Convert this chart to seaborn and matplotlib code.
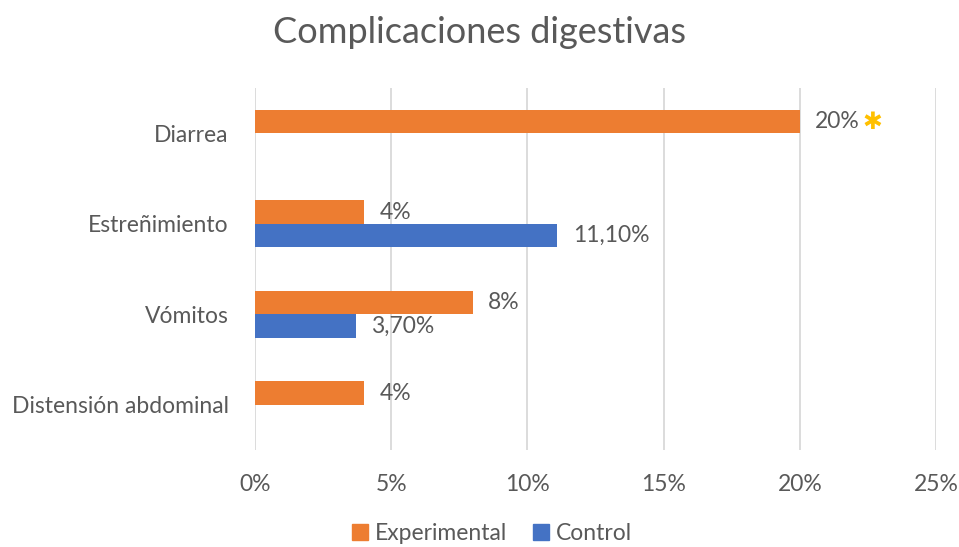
import matplotlib
matplotlib.use("Agg")
import matplotlib.pyplot as plt
from matplotlib.patches import Patch
from matplotlib.ticker import FuncFormatter
import pandas as pd
import seaborn as sns

categories = ["Diarrea", "Estreñimiento", "Vómitos", "Distensión abdominal"]
experimental = [20, 4, 8, 4]
control = [0, 11.1, 3.7, 0]
exp_labels = ["20%", "4%", "8%", "4%"]
ctrl_labels = ["", "11,10%", "3,70%", ""]
groups = ["Experimental", "Control"]
colors = {"Experimental": "#ED7D31", "Control": "#4472C4"}
x_ticks = [0, 5, 10, 15, 20, 25]

df = pd.DataFrame({
    "Complicación": categories * 2,
    "Valor": experimental + control,
    "Grupo": [groups[0]] * 4 + [groups[1]] * 4,
})

sns.set_style("white")
plt.rcParams["font.family"] = ["Lato", "DejaVu Sans"]
text_gray = "#595959"
fs = 16.5

fig = plt.figure(figsize=(9.59, 5.47), dpi=100)
ax = fig.add_axes([0.266, 0.177, 0.71, 0.662])

sns.barplot(data=df, x="Valor", y="Complicación", hue="Grupo", orient="h",
            palette=colors, saturation=1, width=0.52, linewidth=0, ax=ax, legend=False)

ax.set_xlim(0, 25)
ax.set_ylim(3.5, -0.5)
ax.set_xticks(x_ticks)
ax.xaxis.set_major_formatter(FuncFormatter(lambda v, p: f"{v:.0f}%"))
ax.grid(axis="x", color="#D9D9D9", linewidth=1.3)
ax.set_axisbelow(True)
sns.despine(ax=ax, left=True, bottom=True)
ax.set_xlabel("")
ax.set_ylabel("")
ax.tick_params(axis="both", length=0, labelsize=fs, labelcolor=text_gray)
ax.tick_params(axis="x", pad=17)
ax.tick_params(axis="y", pad=19)

ax.bar_label(ax.containers[0], labels=exp_labels, padding=11, fontsize=fs, color=text_gray)
ax.bar_label(ax.containers[1], labels=ctrl_labels, padding=11, fontsize=fs, color=text_gray)

# asterisco junto a Diarrea
bar = ax.containers[0].patches[0]
ax.annotate("✱", xy=(bar.get_width(), bar.get_y() + bar.get_height() / 2),
            xytext=(52, 0), textcoords="offset points", ha="center", va="center",
            fontsize=17, color="#FFC000", family=["DejaVu Sans"])

fig.suptitle("Complicaciones digestivas", x=0.5, y=0.97, fontsize=26, color=text_gray)

handles = [Patch(color=colors[g], label=g) for g in groups]
fig.legend(handles=handles, loc="lower center", bbox_to_anchor=(0.513, -0.033), ncol=2,
           frameon=False, fontsize=fs, labelcolor=text_gray, handlelength=0.7,
           handleheight=0.7, handletextpad=0.3, columnspacing=1.1)

fig.savefig("out.png", dpi=100)
